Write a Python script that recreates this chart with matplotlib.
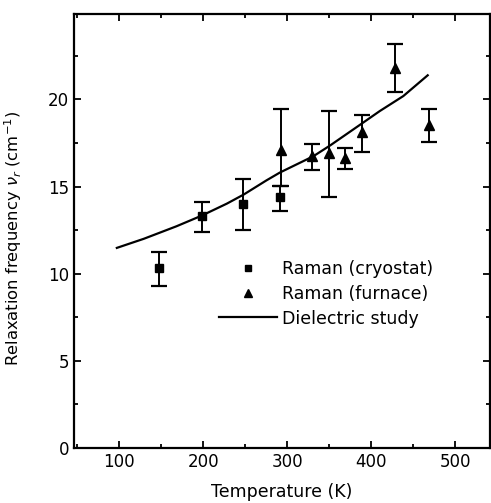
import matplotlib
matplotlib.use("Agg")
import matplotlib.pyplot as plt
from matplotlib.lines import Line2D
import numpy as np

# Raman (cryostat)
cryo_T = [147, 198, 247, 291]
cryo_v = [10.3, 13.3, 14.0, 14.4]
cryo_lo = [9.3, 12.4, 12.5, 13.6]
cryo_hi = [11.25, 14.1, 15.45, 15.05]

# Raman (furnace)
furn_T = [292, 329, 350, 369, 389, 428, 468]
furn_v = [17.1, 16.75, 16.95, 16.65, 18.1, 21.8, 18.55]
furn_lo = [15.05, 15.95, 14.4, 16.0, 17.0, 20.4, 17.55]
furn_hi = [19.45, 17.45, 19.35, 17.2, 19.1, 23.2, 19.45]

# Dielectric study curve
diel_T = [97, 129, 168, 198, 228, 248, 275, 291, 331, 351, 387, 410, 438, 467]
diel_v = [11.48, 12.0, 12.72, 13.33, 14.02, 14.54, 15.35, 15.8, 16.74, 17.36,
          18.56, 19.33, 20.19, 21.38]

xticks = [100, 200, 300, 400, 500]
yticks = [0, 5, 10, 15, 20]

plt.rcParams['font.family'] = ['DejaVu Sans']
fig = plt.figure(figsize=(4.91, 5.03), dpi=100)
ax = fig.add_axes([0.1507, 0.1093, 0.847, 0.863])

ax.plot(diel_T, diel_v, color='black', lw=1.6, solid_joinstyle='round')

cv = np.array(cryo_v)
ax.errorbar(cryo_T, cryo_v,
            yerr=[cv - np.array(cryo_lo), np.array(cryo_hi) - cv],
            fmt='s', color='black', ms=5.5, capsize=6, capthick=1.6,
            elinewidth=1.4)
fv = np.array(furn_v)
ax.errorbar(furn_T, furn_v,
            yerr=[fv - np.array(furn_lo), np.array(furn_hi) - fv],
            fmt='^', color='black', ms=6.5, capsize=6, capthick=1.6,
            elinewidth=1.4)

ax.set_xlim(46, 541)
ax.set_ylim(0, 24.9)
ax.set_xticks(xticks)
ax.set_yticks(yticks)
ax.set_xticks(np.arange(50, 541, 50), minor=True)
ax.set_yticks(np.arange(0, 25, 2.5), minor=True)
ax.tick_params(which='both', direction='in', top=True, right=True,
               labelsize=12, width=1.3)
ax.tick_params(which='major', length=5)
ax.tick_params(which='minor', length=3)
for s in ax.spines.values():
    s.set_linewidth(1.6)

ax.set_xlabel('Temperature (K)', fontsize=12.5, labelpad=9)
ax.set_ylabel(r'Relaxation frequency $\nu_r$ (cm$^{-1}$)', fontsize=11.8)
ax.yaxis.set_label_coords(-0.12, 0.484)

handles = [
    Line2D([], [], ls='none', marker='s', color='black', ms=5),
    Line2D([], [], ls='none', marker='^', color='black', ms=6),
    Line2D([], [], color='black', lw=1.6),
]
labels = ['Raman (cryostat)', 'Raman (furnace)', 'Dielectric study']
leg = ax.legend(handles, labels,
                loc='center left', bbox_to_anchor=(0.312, 0.355),
                frameon=False, fontsize=12.5, handlelength=3.3,
                handletextpad=0.3, labelspacing=0.38)

fig.savefig('out.png', dpi=100)
